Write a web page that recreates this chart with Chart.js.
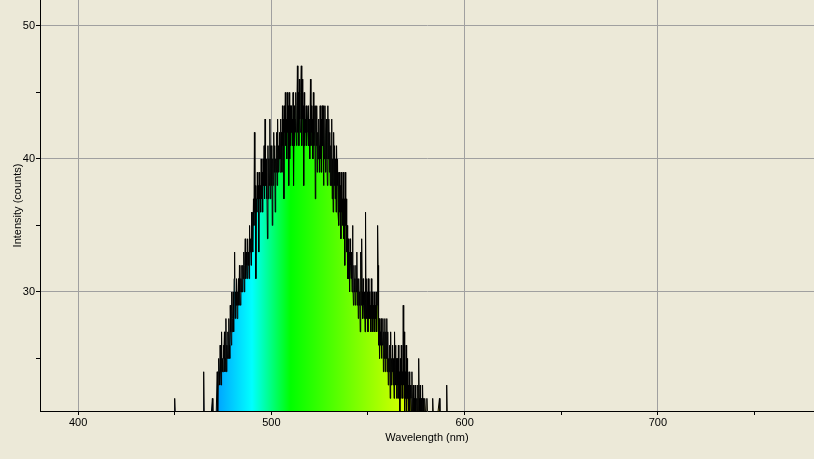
<!DOCTYPE html>
<html>
<head>
<meta charset="utf-8">
<script src="https://cdn.jsdelivr.net/npm/chart.js@4"></script>
<style>
  html, body { margin: 0; padding: 0; background: #ECE9D8; }
  canvas { display: block; background: #ECE9D8; }
</style>
</head>
<body>
<canvas id="c" width="814" height="459"></canvas>
<script>
// Spectrum sampled every 0.25 nm starting at 445 nm (one row = 5 nm)
const wavelengthStart = 445.0;
const wavelengthStep = 0.25;
const intensity = [
  21,21,21,21,21,21,21,21,21,21, 21,21,21,21,21,21,21,21,21,21, // 445
  22,21,21,21,21,21,21,21,21,21, 21,21,21,21,21,21,21,21,21,21, // 450
  21,21,21,21,21,21,21,21,21,21, 21,21,21,21,21,21,21,21,21,21, // 455
  21,21,21,21,21,21,21,21,21,21, 21,21,21,21,21,21,21,21,21,21, // 460
  24,21,21,21,21,21,21,21,21,21, 21,21,21,21,21,21,21,21,22,21, // 465
  21,21,21,21,21,21,21,21,24,21, 23,25,24,23,26,24,23,27,24,25, // 470
  24,26,25,27,24,25,28,24,26,25, 27,25,28,26,25,29,27,26,30,27, // 475
  28,30,27,31,33,28,30,29,31,28, 30,29,31,29,32,30,29,31,30,32, // 480
  30,32,31,33,30,32,34,31,33,32, 31,34,32,33,31,35,33,34,32,36, // 485
  34,36,33,37,35,42,36,38,31,37, 36,39,37,38,33,39,37,38,36,40, // 490
  37,39,36,40,38,41,37,43,38,40, 37,39,34,41,37,40,38,43,37,41, // 495
  38,41,35,40,38,42,39,41,36,40, 39,42,38,43,39,41,40,42,39,43, // 500
  40,42,39,44,41,43,37,44,42,45, 41,43,40,45,42,44,38,45,40,44, // 505
  41,44,42,43,41,45,38,44,41,43, 42,45,41,44,47,42,45,41,46,43, // 510
  42,45,47,41,46,43,44,38,45,41, 43,42,44,41,42,43,44,41,43,42, // 515
  40,46,41,44,42,43,40,45,41,42, 44,37,44,41,44,39,42,40,43,41, // 520
  39,44,40,43,39,44,41,44,38,43, 40,44,39,42,43,40,38,44,40,43, // 525
  39,42,38,41,38,43,37,40,36,42, 38,41,37,40,36,41,38,40,36,39, // 530
  35,39,36,38,34,39,36,37,35,39, 34,37,32,39,35,37,33,35,31,34, // 535
  31,33,30,34,32,31,33,30,35,31, 29,32,30,31,29,32,30,33,29,31, // 540
  28,31,29,30,27,33,29,34,30,28, 31,29,28,30,27,36,29,31,28,30, // 545
  27,31,28,30,28,29,27,31,28,30, 27,29,28,30,27,29,28,30,27,29, // 550
  35,32,26,28,25,27,26,28,25,27, 26,28,24,27,25,28,24,27,25,28, // 555
  24,27,23,25,24,26,22,27,23,25, 24,26,23,25,22,27,24,26,23,25, // 560
  22,25,23,26,22,24,21,25,22,26, 23,24,22,29,23,27,21,24,22,26, // 565
  21,25,22,23,21,24,22,21,23,22, 21,24,21,22,23,21,22,21,23,21, // 570
  21,22,21,23,21,25,22,21,23,21, 22,21,21,23,21,22,21,21,22,21, // 575
  21,21,22,21,21,21,21,21,21,21, 21,21,21,21,22,21,21,21,21,21, // 580
  21,21,21,21,21,21,21,21,22,21, 21,21,21,21,21,21,21,21,21,21, // 585
  21,21,21,23,21,21,21,21,21,21, 21,21,21,21,21,21,21,21,21,21, // 590
  21                                                             // 595
];

const xTicks = [400, 450, 500, 550, 600, 650, 700, 750];
const yTicks = [25, 30, 35, 40, 45, 50];
const xRange = [380.3, 780.8];
const yRange = [21.05, 51.95];

// colour of visible light by wavelength (nm)
const spectrumStops = [
  [380, 'rgb(97,0,97)'],
  [440, 'rgb(0,0,255)'],
  [465, 'rgb(0,128,255)'],
  [490, 'rgb(0,255,255)'],
  [510, 'rgb(0,255,0)'],
  [545, 'rgb(128,255,0)'],
  [580, 'rgb(255,255,0)'],
  [645, 'rgb(255,0,0)'],
  [780, 'rgb(128,0,0)']
];

const points = intensity.map((v, i) => ({ x: wavelengthStart + i * wavelengthStep, y: v }));

const FONT = { family: "'Liberation Sans', Arial, sans-serif", size: 11 };

function spectrumFill(ctx) {
  const chart = ctx.chart;
  const area = chart.chartArea;
  if (!area) return 'rgba(0,255,0,1)';
  const xs = chart.scales.x;
  const g = chart.ctx.createLinearGradient(area.left, 0, area.right, 0);
  const w = area.right - area.left;
  spectrumStops.forEach(([wl, col]) => {
    let p = (xs.getPixelForValue(wl) - area.left) / w;
    p = Math.max(0, Math.min(1, p));
    g.addColorStop(p, col);
  });
  return g;
}

new Chart(document.getElementById('c'), {
  type: 'line',
  data: {
    datasets: [{
      data: points,
      borderColor: '#000000',
      borderWidth: 1,
      pointRadius: 0,
      tension: 0,
      fill: 'start',
      backgroundColor: spectrumFill
    }]
  },
  options: {
    responsive: false,
    animation: false,
    events: [],
    layout: { padding: 0 },
    plugins: { legend: { display: false }, tooltip: { enabled: false } },
    scales: {
      x: {
        type: 'linear',
        min: xRange[0],
        max: xRange[1],
        afterBuildTicks: (s) => { s.ticks = xTicks.map(v => ({ value: v })); },
        afterFit: (s) => { s.height = 48; s.paddingLeft = 0; s.paddingRight = 0; },
        ticks: {
          color: '#000',
          font: FONT,
          padding: 1,
          maxRotation: 0,
          autoSkip: false,
          callback: (v) => (v % 100 === 0 ? String(v) : '')
        },
        grid: {
          color: (c) => (c.tick && c.tick.value % 100 === 0 ? '#A0A0A0' : 'rgba(0,0,0,0)'),
          tickColor: '#000',
          tickLength: 4,
          lineWidth: 1
        },
        border: { color: '#000', width: 1 },
        title: {
          display: true,
          text: 'Wavelength (nm)',
          color: '#000',
          font: FONT,
          padding: { top: 0, bottom: 14 }
        }
      },
      y: {
        type: 'linear',
        min: yRange[0],
        max: yRange[1],
        afterBuildTicks: (s) => { s.ticks = yTicks.map(v => ({ value: v })); },
        afterFit: (s) => { s.width = 40; s.paddingTop = 0; s.paddingBottom = 0; },
        ticks: {
          color: '#000',
          font: FONT,
          padding: 1,
          autoSkip: false,
          callback: (v) => (v % 10 === 0 ? String(v) : '')
        },
        grid: {
          color: (c) => (c.tick && c.tick.value % 10 === 0 ? '#A0A0A0' : 'rgba(0,0,0,0)'),
          tickColor: '#000',
          tickLength: 4,
          lineWidth: 1
        },
        border: { color: '#000', width: 1 },
        title: {
          display: true,
          text: 'Intensity (counts)',
          color: '#000',
          font: FONT,
          padding: { top: 11, bottom: 0 }
        }
      }
    }
  }
});
</script>
</body>
</html>
